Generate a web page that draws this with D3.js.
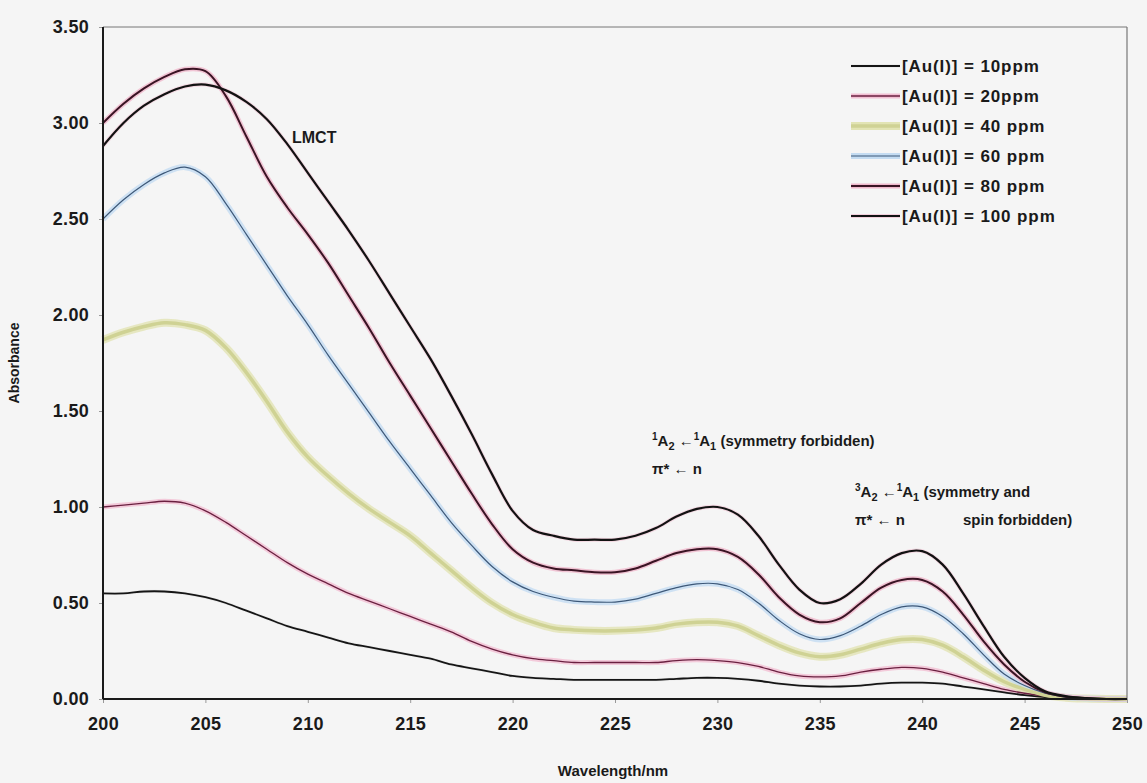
<!DOCTYPE html>
<html>
  <head>
    <meta charset="utf-8">
    <style>
      body { margin: 0; background: #f5f5f5; }
      svg { display: block; font-family: "Liberation Sans", Arial, sans-serif; }
      .tick text { font-size: 18px; font-weight: bold; fill: #1a1a1a; letter-spacing: 0.3px; }
      .tick line { stroke: #999; }
      .domain { display: none; }
      .note { font-size: 15px; font-weight: bold; fill: #1a1a1a; }
      .legend text { font-size: 17px; font-weight: bold; fill: #1a1a1a; letter-spacing: 0.9px; }
    </style>
  </head>
  <body>
    <svg width="1147" height="783"></svg>
    <script src="https://d3js.org/d3.v7.min.js"></script>
    <script>
      var wavelengths = [200, 201, 202, 203, 204, 205, 206, 207, 208, 209,
        210, 211, 212, 213, 214, 215, 216, 217, 218, 219,
        220, 221, 222, 223, 224, 225, 226, 227, 228, 229,
        230, 231, 232, 233, 234, 235, 236, 237, 238, 239,
        240, 241, 242, 243, 244, 245, 246, 247, 248, 249, 250];

      var ppm10 = [0.55, 0.55, 0.56, 0.56, 0.55, 0.53, 0.50, 0.46, 0.42, 0.38,
        0.35, 0.32, 0.29, 0.27, 0.25, 0.23, 0.21, 0.18, 0.16, 0.14,
        0.12, 0.11, 0.105, 0.10, 0.10, 0.10, 0.10, 0.10, 0.105, 0.11,
        0.11, 0.105, 0.095, 0.08, 0.07, 0.065, 0.065, 0.07, 0.08, 0.085,
        0.085, 0.08, 0.065, 0.05, 0.035, 0.02, 0.01, 0.004, 0.001, 0, 0];

      var ppm20 = [1.00, 1.01, 1.02, 1.03, 1.02, 0.98, 0.92, 0.85, 0.78, 0.71,
        0.65, 0.60, 0.55, 0.51, 0.47, 0.43, 0.39, 0.35, 0.30, 0.26,
        0.23, 0.21, 0.20, 0.19, 0.19, 0.19, 0.19, 0.19, 0.20, 0.205,
        0.20, 0.19, 0.17, 0.14, 0.12, 0.115, 0.12, 0.14, 0.155, 0.165,
        0.16, 0.14, 0.11, 0.08, 0.05, 0.03, 0.015, 0.005, 0.002, 0, 0];

      var ppm40 = [1.87, 1.91, 1.94, 1.96, 1.95, 1.92, 1.83, 1.70, 1.55, 1.39,
        1.26, 1.16, 1.07, 0.99, 0.92, 0.85, 0.76, 0.67, 0.58, 0.50,
        0.44, 0.40, 0.37, 0.36, 0.355, 0.355, 0.36, 0.37, 0.39, 0.40,
        0.40, 0.38, 0.33, 0.28, 0.24, 0.22, 0.23, 0.26, 0.29, 0.31,
        0.31, 0.28, 0.22, 0.15, 0.09, 0.05, 0.02, 0.007, 0.002, 0, 0];

      var ppm60 = [2.50, 2.60, 2.68, 2.74, 2.77, 2.72, 2.58, 2.42, 2.26, 2.10,
        1.95, 1.79, 1.64, 1.49, 1.34, 1.20, 1.06, 0.92, 0.80, 0.69,
        0.61, 0.56, 0.53, 0.51, 0.505, 0.505, 0.52, 0.55, 0.58, 0.60,
        0.60, 0.57, 0.50, 0.41, 0.34, 0.31, 0.33, 0.38, 0.44, 0.48,
        0.48, 0.43, 0.34, 0.23, 0.13, 0.07, 0.03, 0.01, 0.003, 0, 0];

      var ppm80 = [3.00, 3.10, 3.18, 3.24, 3.28, 3.27, 3.14, 2.93, 2.72, 2.56,
        2.42, 2.27, 2.10, 1.93, 1.75, 1.58, 1.41, 1.24, 1.07, 0.91,
        0.78, 0.71, 0.68, 0.67, 0.66, 0.66, 0.68, 0.72, 0.76, 0.78,
        0.78, 0.74, 0.65, 0.53, 0.44, 0.40, 0.42, 0.50, 0.58, 0.62,
        0.62, 0.56, 0.44, 0.30, 0.18, 0.09, 0.035, 0.012, 0.004, 0, 0];

      var ppm100 = [2.88, 3.00, 3.09, 3.15, 3.19, 3.20, 3.17, 3.11, 3.02, 2.89,
        2.74, 2.59, 2.44, 2.28, 2.11, 1.94, 1.77, 1.58, 1.38, 1.17,
        0.98, 0.88, 0.85, 0.83, 0.83, 0.83, 0.85, 0.89, 0.95, 0.99,
        1.00, 0.96, 0.85, 0.70, 0.57, 0.50, 0.52, 0.60, 0.70, 0.76,
        0.77, 0.70, 0.55, 0.38, 0.22, 0.11, 0.04, 0.015, 0.005, 0, 0];

      var seriesNames = ["[Au(I)] = 10ppm", "[Au(I)] = 20ppm", "[Au(I)] = 40 ppm",
        "[Au(I)] = 60 ppm", "[Au(I)] = 80 ppm", "[Au(I)] = 100 ppm"];
      var seriesValues = [ppm10, ppm20, ppm40, ppm60, ppm80, ppm100];

      var xTicks = [200, 205, 210, 215, 220, 225, 230, 235, 240, 245, 250];
      var yTicks = [0, 0.5, 1, 1.5, 2, 2.5, 3, 3.5];

      // halo colour / core colour / widths per series
      var styles = [
        { halo: "#e6e6e6", haloW: 3, core: "#151515", coreW: 1.8 },
        { halo: "#f3bfd3", haloW: 5, core: "#6a2040", coreW: 1.3 },
        { halo: "#e2e4b4", haloW: 8, core: "#cfd294", coreW: 3.5 },
        { halo: "#c4dcf2", haloW: 6, core: "#3d5878", coreW: 1.2 },
        { halo: "#f0b8cc", haloW: 5, core: "#3a1424", coreW: 2 },
        { halo: "#f2d0dc", haloW: 4, core: "#121212", coreW: 2.2 }
      ];

      var svg = d3.select("svg");
      var margin = { left: 103, right: 20, top: 27, bottom: 84 };
      var width = 1147 - margin.left - margin.right,
        height = 783 - margin.top - margin.bottom;

      var g = svg.append("g").attr("transform", "translate(" + margin.left + "," + margin.top + ")");

      var x = d3.scaleLinear().domain([200, 250]).range([0, width]);
      var y = d3.scaleLinear().domain([0, 3.5]).range([height, 0]);

      g.append("g")
        .attr("transform", "translate(0," + height + ")")
        .call(d3.axisBottom(x).tickValues(xTicks).tickSize(4).tickPadding(14).tickFormat(d3.format("d")));

      g.append("g")
        .call(d3.axisLeft(y).tickValues(yTicks).tickSize(4).tickPadding(10).tickFormat(d3.format(".2f")));

      var line = d3.line()
        .x(function(d, i) { return x(wavelengths[i]); })
        .y(function(d) { return y(d); })
        .curve(d3.curveCatmullRom);

      var curves = g.append("g");
      seriesValues.forEach(function(vals, i) {
        var s = styles[i];
        curves.append("path").datum(vals)
          .attr("fill", "none").attr("stroke", s.halo).attr("stroke-width", s.haloW)
          .attr("stroke-opacity", 0.8).attr("d", line);
      });
      seriesValues.forEach(function(vals, i) {
        var s = styles[i];
        curves.append("path").datum(vals)
          .attr("fill", "none").attr("stroke", s.core).attr("stroke-width", s.coreW)
          .attr("d", line);
      });

      // frame
      g.append("line").attr("x1", 0).attr("x2", width).attr("y1", 0).attr("y2", 0)
        .attr("stroke", "#777").attr("stroke-width", 1);
      g.append("line").attr("x1", width).attr("x2", width).attr("y1", 0).attr("y2", height)
        .attr("stroke", "#777").attr("stroke-width", 1.2);
      g.append("line").attr("x1", 0).attr("x2", 0).attr("y1", 0).attr("y2", height)
        .attr("stroke", "#1a1a1a").attr("stroke-width", 2);
      g.append("line").attr("x1", 0).attr("x2", width).attr("y1", height).attr("y2", height)
        .attr("stroke", "#1a1a1a").attr("stroke-width", 2);

      // axis titles
      svg.append("text").attr("class", "note")
        .attr("transform", "translate(19," + (margin.top + height / 2) + ") rotate(-90)")
        .attr("text-anchor", "middle").style("font-size", "14px").text("Absorbance");
      svg.append("text").attr("class", "note")
        .attr("x", margin.left + width / 2 - 2).attr("y", 776)
        .attr("text-anchor", "middle").style("font-size", "15px").text("Wavelength/nm");

      // annotations
      svg.append("text").attr("class", "note").style("font-size", "16px")
        .attr("x", 292).attr("y", 143).text("LMCT");

      function transition(xp, yp, upper, tail) {
        var t = svg.append("text").attr("class", "note").attr("x", xp).attr("y", yp);
        t.append("tspan").attr("dy", "-6").style("font-size", "10px").text(upper);
        t.append("tspan").attr("dy", "6").text("A");
        t.append("tspan").attr("dy", "4").style("font-size", "11px").text("2");
        t.append("tspan").attr("dy", "-4").text(" \u2190");
        t.append("tspan").attr("dy", "-6").style("font-size", "10px").text("1");
        t.append("tspan").attr("dy", "6").text("A");
        t.append("tspan").attr("dy", "4").style("font-size", "11px").text("1");
        t.append("tspan").attr("dy", "-4").text(" " + tail);
      }
      transition(652, 446, "1", "(symmetry forbidden)");
      svg.append("text").attr("class", "note").attr("x", 652).attr("y", 474).text("\u03c0* \u2190 n");

      transition(855, 497, "3", "(symmetry and");
      svg.append("text").attr("class", "note").attr("x", 855).attr("y", 525).text("\u03c0* \u2190 n");
      svg.append("text").attr("class", "note").attr("x", 963).attr("y", 525).text("spin forbidden)");

      // legend
      var legend = svg.append("g").attr("class", "legend");
      seriesNames.forEach(function(name, i) {
        var ly = 66 + i * 30;
        var s = styles[i];
        legend.append("line").attr("x1", 851).attr("x2", 900).attr("y1", ly).attr("y2", ly)
          .attr("stroke", s.halo).attr("stroke-width", s.haloW);
        legend.append("line").attr("x1", 851).attr("x2", 900).attr("y1", ly).attr("y2", ly)
          .attr("stroke", s.core).attr("stroke-width", s.coreW);
        legend.append("text").attr("x", 902).attr("y", ly + 6).text(name);
      });
    </script>
  </body>
</html>
